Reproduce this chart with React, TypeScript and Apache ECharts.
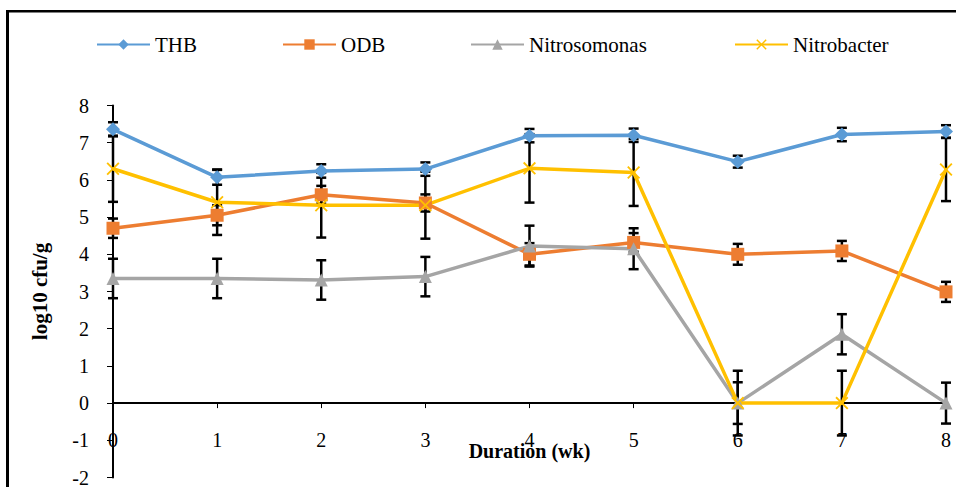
import React, { useEffect, useRef } from "react";
import * as echarts from "echarts";

const weeks = [0, 1, 2, 3, 4, 5, 6, 7, 8];
const seriesNames = ["THB", "ODB", "Nitrosomonas", "Nitrobacter"];
const thb = [7.36, 6.07, 6.24, 6.29, 7.19, 7.2, 6.49, 7.22, 7.3];
const thbErr = [0.19, 0.2, 0.18, 0.18, 0.18, 0.18, 0.16, 0.18, 0.17];
const odb = [4.7, 5.05, 5.6, 5.38, 4.0, 4.32, 4.0, 4.09, 2.99];
const odbErr = [0.26, 0.27, 0.24, 0.23, 0.3, 0.25, 0.28, 0.27, 0.27];
const nitrosomonas = [3.35, 3.35, 3.31, 3.4, 4.22, 4.15, 0, 1.85, 0];
const nitrosomonasErr = [0.53, 0.53, 0.53, 0.53, 0.55, 0.55, 0.56, 0.54, 0.55];
const nitrobacter = [6.3, 5.4, 5.32, 5.32, 6.31, 6.2, 0, 0, 6.28];
const nitrobacterErr = [0.89, 0.88, 0.87, 0.9, 0.92, 0.9, 0.87, 0.87, 0.85];
const yTicks = { min: -2, max: 8, interval: 1 };
const xTicks = { min: 0, max: 8, interval: 1 };

const colors = ["#5B9BD5", "#ED7D31", "#A5A5A5", "#FFC000"];
const symbols = [
  "diamond",
  "rect",
  "triangle",
  "path://M0,1 L1,0 L5,4 L9,0 L10,1 L6,5 L10,9 L9,10 L5,6 L1,10 L0,9 L4,5 Z",
];
const symbolSizes = [14, 13, 13, 13];
const legendLefts = [96, 282, 470, 734];

const FONT = "Liberation Serif";

export default function App() {
  const ref = useRef<HTMLDivElement>(null);
  useEffect(() => {
    if (!ref.current) return;
    const chart = echarts.init(ref.current, null, { renderer: "svg" });
    const values = [thb, odb, nitrosomonas, nitrobacter];
    const errs = [thbErr, odbErr, nitrosomonasErr, nitrobacterErr];

    const errorSeries = values.map((vals, si) => ({
      type: "custom",
      name: seriesNames[si] + " err",
      z: 1,
      encode: { x: 0, y: [1, 2] },
      data: weeks.map((w, i) => [w, vals[i] - errs[si][i], vals[i] + errs[si][i]]),
      renderItem: (params: any, api: any) => {
        const x = api.value(0);
        const lo = api.value(1);
        const hi = api.value(2);
        const top = api.coord([x, hi]);
        const bot = api.coord([x, lo]);
        const w = 5;
        const st = { stroke: "#000", lineWidth: 2.5 };
        return {
          type: "group",
          children: [
            { type: "line", shape: { x1: top[0], y1: top[1], x2: bot[0], y2: bot[1] }, style: st },
            { type: "line", shape: { x1: top[0] - w, y1: top[1], x2: top[0] + w, y2: top[1] }, style: st },
            { type: "line", shape: { x1: bot[0] - w, y1: bot[1], x2: bot[0] + w, y2: bot[1] }, style: st },
          ],
        };
      },
    }));

    const lineSeries = values.map((vals, si) => ({
      type: "line",
      name: seriesNames[si],
      z: 3,
      data: weeks.map((w, i) => [w, vals[i]]),
      symbol: symbols[si],
      symbolSize: symbolSizes[si],
      showAllSymbol: true,
      lineStyle: { color: colors[si], width: 3.5 },
      itemStyle: { color: colors[si], borderWidth: 0 },
    }));

    chart.setOption({
      animation: false,
      backgroundColor: "#fff",
      color: colors,
      grid: {
        left: 113,
        right: 10,
        top: 105.5,
        bottom: 9.5,
        containLabel: false,
        outerBoundsMode: "none",
      },
      legend: seriesNames.map((n, i) => ({
        data: [n],
        left: legendLefts[i],
        top: 34,
        padding: 0,
        itemWidth: 53,
        itemHeight: 13,
        textStyle: { fontFamily: FONT, fontSize: 21, color: "#000" },
      })),
      xAxis: {
        type: "value",
        min: xTicks.min,
        max: xTicks.max,
        interval: xTicks.interval,
        name: "Duration (wk)",
        nameLocation: "middle",
        nameGap: -37,
        nameMoveOverlap: false,
        nameTextStyle: { fontFamily: FONT, fontSize: 20, fontWeight: "bold", color: "#000" },
        axisLine: { onZero: true, lineStyle: { color: "#000", width: 2 } },
        axisTick: { show: true, length: 5, lineStyle: { color: "#000", width: 1 } },
        axisLabel: { margin: -48, fontFamily: FONT, fontSize: 20, color: "#000" },
        splitLine: { show: false },
      },
      yAxis: {
        type: "value",
        min: yTicks.min,
        max: yTicks.max,
        interval: yTicks.interval,
        name: "log10 cfu/g",
        nameLocation: "middle",
        nameGap: 63,
        nameMoveOverlap: false,
        nameTextStyle: { fontFamily: FONT, fontSize: 21, fontWeight: "bold", color: "#000" },
        axisLine: { show: true, onZero: false, lineStyle: { color: "#000", width: 2 } },
        axisTick: { show: true, length: 6, lineStyle: { color: "#000", width: 1 } },
        axisLabel: { margin: 24, fontFamily: FONT, fontSize: 20, color: "#000" },
        splitLine: { show: false },
      },
      graphic: [
        { type: "line", shape: { x1: 7.5, y1: 11.3, x2: 956, y2: 11.3 }, style: { stroke: "#000", lineWidth: 2.5 } },
        { type: "line", shape: { x1: 7.5, y1: 10, x2: 7.5, y2: 487 }, style: { stroke: "#000", lineWidth: 3 } },
      ],
      series: [...errorSeries, ...lineSeries],
    });
    return () => chart.dispose();
  }, []);
  return (
    <div
      ref={ref}
      style={{ position: "fixed", left: 0, top: 0, width: 956, height: 487, background: "#fff" }}
    />
  );
}
